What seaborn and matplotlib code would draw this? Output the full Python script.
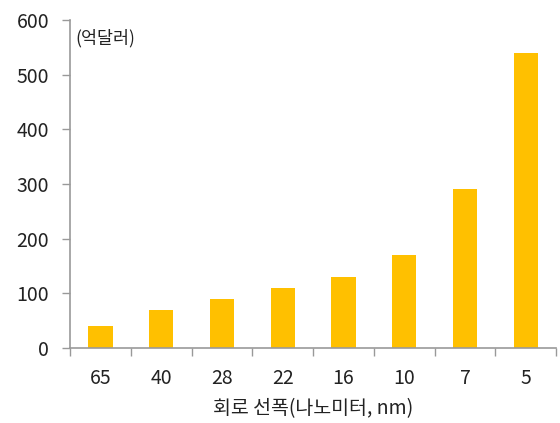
import matplotlib
matplotlib.use("Agg")
import matplotlib.pyplot as plt
import seaborn as sns
import pandas as pd

# Circuit line width (nm) and market size (100 million USD)
widths = ["65", "40", "28", "22", "16", "10", "7", "5"]
values = [40, 70, 90, 110, 130, 170, 290, 540]
y_ticks = [0, 100, 200, 300, 400, 500, 600]

sns.set_theme(style="white")
plt.rcParams["font.family"] = ["Noto Sans CJK KR", "DejaVu Sans"]

df = pd.DataFrame({"width": widths, "value": values})

fig = plt.figure(figsize=(5.6, 4.23), dpi=100)
ax = fig.add_axes([0.125, 0.177, 0.868, 0.776])

sns.barplot(data=df, x="width", y="value", order=widths, color="#FFC000",
            saturation=1, width=0.4, linewidth=0, ax=ax)

ax.set_xlim(-0.5, len(widths) - 0.5)
ax.set_ylim(0, 600)
ax.set_yticks(y_ticks)
ax.tick_params(axis="y", labelsize=14, colors="#222222", length=6, width=1,
               color="#999999", direction="out", left=True, pad=9)

# x ticks sit between categories; labels centered under bars
ax.set_xticks([i + 0.5 for i in range(-1, len(widths))], minor=False)
ax.set_xticklabels([])
ax.set_xticks(range(len(widths)), minor=True)
ax.set_xticklabels(widths, minor=True)
ax.tick_params(axis="x", which="major", length=6, width=1, color="#999999",
               direction="out", bottom=True)
ax.tick_params(axis="x", which="minor", length=0, labelsize=14,
               colors="#222222", pad=14)

for side in ["top", "right"]:
    ax.spines[side].set_visible(False)
for side in ["left", "bottom"]:
    ax.spines[side].set_color("#999999")
    ax.spines[side].set_linewidth(1.2)

ax.set_xlabel("회로 선폭(나노미터, nm)", fontsize=14, color="#222222", labelpad=7)
ax.set_ylabel("")
ax.text(0.012, 0.945, "(억달러)", transform=ax.transAxes, fontsize=12.5,
        color="#222222", ha="left", va="center")

fig.savefig("out.png", dpi=100)
